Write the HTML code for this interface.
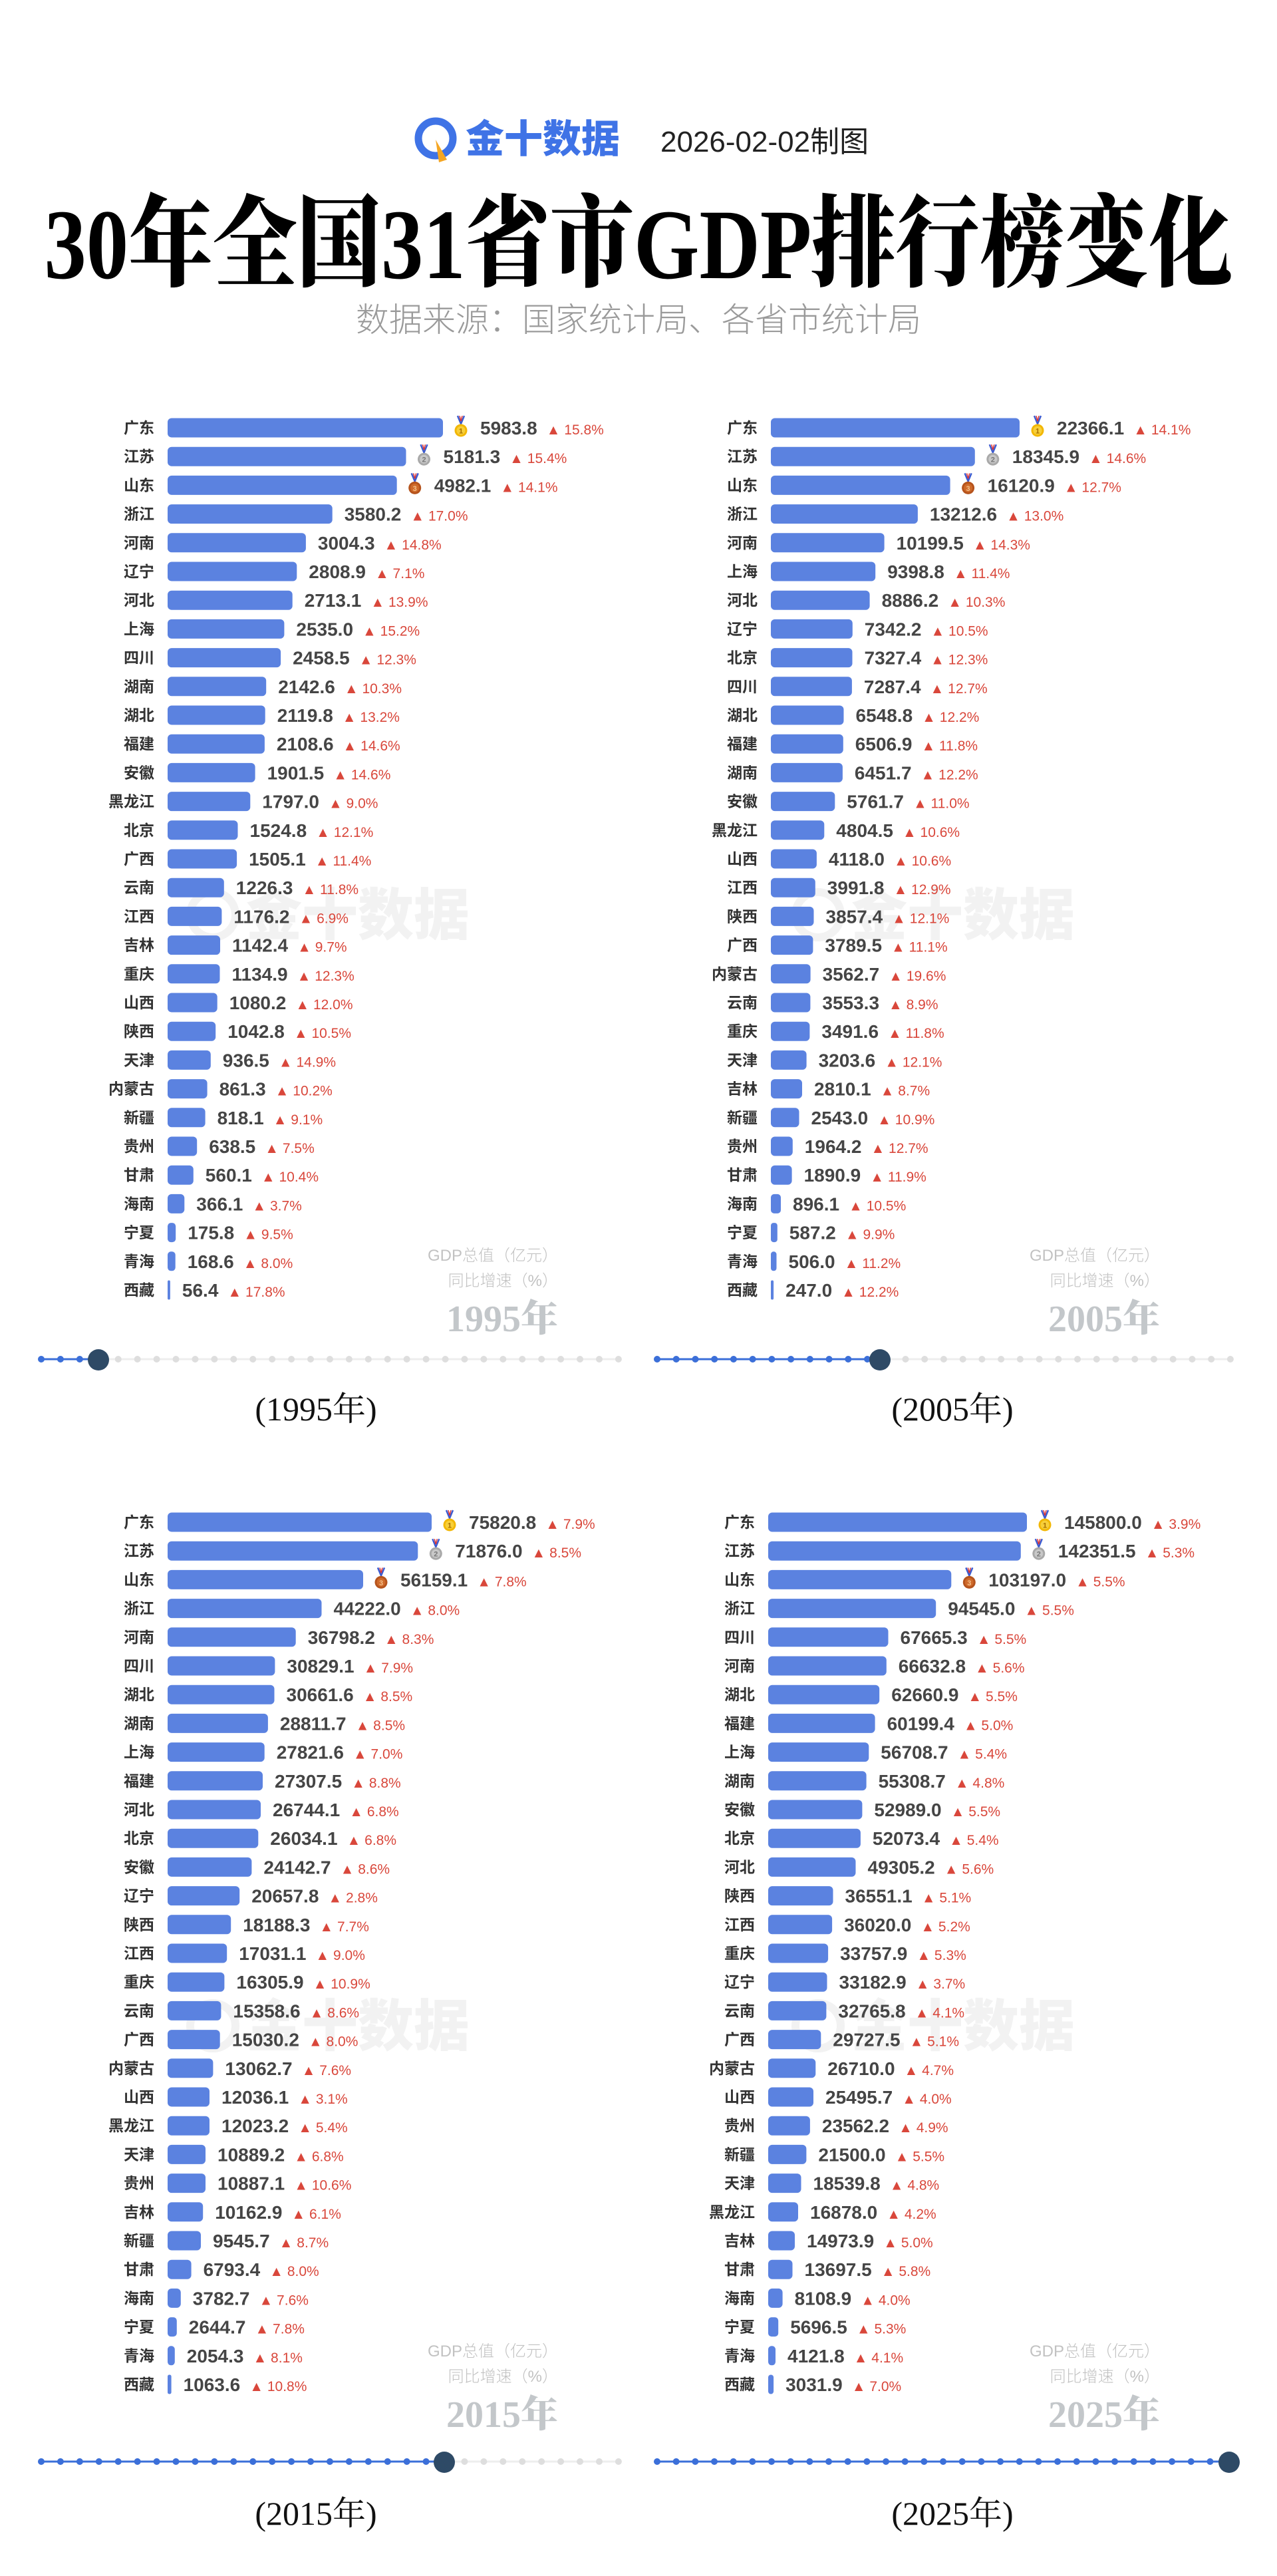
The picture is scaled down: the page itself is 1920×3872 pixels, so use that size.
<!DOCTYPE html>
<html><head><meta charset="utf-8">
<style>
html,body{margin:0;padding:0;background:#fff;overflow:hidden}
svg{display:block}
.lb{font:700 23px "Noto Sans CJK SC","WenQuanYi Zen Hei",sans-serif;fill:#333;text-anchor:end}
.v{font:700 28px "Liberation Sans",sans-serif;fill:#454545}
.p{font:400 21px "Liberation Sans","DejaVu Sans",sans-serif;fill:#d9473b}
.lg{font:300 24px "Liberation Sans","Noto Sans CJK SC",sans-serif;fill:#c2c2c2;text-anchor:end}
.yr{font:900 56px "Liberation Serif","Noto Serif CJK SC",serif;fill:#c3c7ca;text-anchor:end}
.cap{font:400 50px "Liberation Serif","Noto Serif CJK SC",serif;fill:#111;text-anchor:middle}
.wm{font:900 84px "Noto Sans CJK SC",sans-serif;fill:#f2f2f2}
rect.b{fill:#5b82e0}
</style></head>
<body>
<svg width="1920" height="3872" viewBox="0 0 1920 3872" xmlns="http://www.w3.org/2000/svg">
<defs>
<g id="m1"><path d="M-5,-22 L0,-10 L5,-22" fill="none" stroke="#3b5bd0" stroke-width="2.5"/><path d="M-2,-22 L0,-14 L2,-22" fill="none" stroke="#d33" stroke-width="1.5"/><circle r="9.5" fill="#f2b705"/><circle r="6.5" fill="#f7cf3a"/><text y="4.5" text-anchor="middle" font-family="Liberation Sans" font-size="11" font-weight="700" fill="#a66e00">1</text></g>
<g id="m2"><path d="M-5,-22 L0,-10 L5,-22" fill="none" stroke="#3b5bd0" stroke-width="2.5"/><path d="M-2,-22 L0,-14 L2,-22" fill="none" stroke="#d33" stroke-width="1.5"/><circle r="9.5" fill="#a9a9a9"/><circle r="6.5" fill="#c8c8c8"/><text y="4.5" text-anchor="middle" font-family="Liberation Sans" font-size="11" font-weight="700" fill="#777">2</text></g>
<g id="m3"><path d="M-5,-22 L0,-10 L5,-22" fill="none" stroke="#3b5bd0" stroke-width="2.5"/><path d="M-2,-22 L0,-14 L2,-22" fill="none" stroke="#d33" stroke-width="1.5"/><circle r="9.5" fill="#b5531c"/><circle r="6.5" fill="#cf6a2a"/><text y="4.5" text-anchor="middle" font-family="Liberation Sans" font-size="11" font-weight="700" fill="#f5c08a">3</text></g>
</defs>

<g>
  <circle cx="655" cy="208" r="26" fill="none" stroke="#3f73e6" stroke-width="11"/>
  <path d="M655,210 L672,240 L660,244 Z" fill="#f5a623"/>
  <text x="700" y="229" font-family="Noto Sans CJK SC,sans-serif" font-weight="900" font-size="58" fill="#3f73e6">金十数据</text>
  <text x="993" y="228" font-family="Liberation Sans,Noto Sans CJK SC,sans-serif" font-size="44" fill="#222">2026-02-02制图</text>
  <text x="960" y="418" text-anchor="middle" textLength="1787" lengthAdjust="spacingAndGlyphs" font-family="Liberation Serif,Noto Serif CJK SC,serif" font-weight="900" font-size="150" fill="#000">30年全国31省市GDP排行榜变化</text>
  <text x="960" y="498" text-anchor="middle" font-family="Noto Sans CJK SC,sans-serif" font-weight="300" font-size="50" fill="#9a9a9a">数据来源：国家统计局、各省市统计局</text>
</g>

<g>
  <circle cx="320" cy="1375" r="34" fill="none" stroke="#f2f2f2" stroke-width="12"/><text class="wm" x="370" y="1405">金十数据</text>
  <circle cx="1230" cy="1375" r="34" fill="none" stroke="#f2f2f2" stroke-width="12"/><text class="wm" x="1280" y="1405">金十数据</text>
  <circle cx="320" cy="3045" r="34" fill="none" stroke="#f2f2f2" stroke-width="12"/><text class="wm" x="370" y="3075">金十数据</text>
  <circle cx="1230" cy="3045" r="34" fill="none" stroke="#f2f2f2" stroke-width="12"/><text class="wm" x="1280" y="3075">金十数据</text>
</g>

<!-- Panel 1995 -->
<g transform="translate(252,643)">
<g transform="translate(0,0)"><text class="lb" x="-20" y="8">广东</text><rect class="b" x="0" y="-14.5" width="414" height="29" rx="6"/><use href="#m1" x="441" y="4"/><text class="v" x="470" y="10">5983.8<tspan class="p" dx="14">▲ 15.8%</tspan></text></g>
<g transform="translate(0,43.2)"><text class="lb" x="-20" y="8">江苏</text><rect class="b" x="0" y="-14.5" width="358.5" height="29" rx="6"/><use href="#m2" x="385.5" y="4"/><text class="v" x="414.5" y="10">5181.3<tspan class="p" dx="14">▲ 15.4%</tspan></text></g>
<g transform="translate(0,86.4)"><text class="lb" x="-20" y="8">山东</text><rect class="b" x="0" y="-14.5" width="344.7" height="29" rx="6"/><use href="#m3" x="371.7" y="4"/><text class="v" x="400.7" y="10">4982.1<tspan class="p" dx="14">▲ 14.1%</tspan></text></g>
<g transform="translate(0,129.6)"><text class="lb" x="-20" y="8">浙江</text><rect class="b" x="0" y="-14.5" width="247.7" height="29" rx="6"/><text class="v" x="265.7" y="10">3580.2<tspan class="p" dx="14">▲ 17.0%</tspan></text></g>
<g transform="translate(0,172.8)"><text class="lb" x="-20" y="8">河南</text><rect class="b" x="0" y="-14.5" width="207.9" height="29" rx="6"/><text class="v" x="225.9" y="10">3004.3<tspan class="p" dx="14">▲ 14.8%</tspan></text></g>
<g transform="translate(0,216)"><text class="lb" x="-20" y="8">辽宁</text><rect class="b" x="0" y="-14.5" width="194.3" height="29" rx="6"/><text class="v" x="212.3" y="10">2808.9<tspan class="p" dx="14">▲ 7.1%</tspan></text></g>
<g transform="translate(0,259.2)"><text class="lb" x="-20" y="8">河北</text><rect class="b" x="0" y="-14.5" width="187.7" height="29" rx="6"/><text class="v" x="205.7" y="10">2713.1<tspan class="p" dx="14">▲ 13.9%</tspan></text></g>
<g transform="translate(0,302.4)"><text class="lb" x="-20" y="8">上海</text><rect class="b" x="0" y="-14.5" width="175.4" height="29" rx="6"/><text class="v" x="193.4" y="10">2535.0<tspan class="p" dx="14">▲ 15.2%</tspan></text></g>
<g transform="translate(0,345.6)"><text class="lb" x="-20" y="8">四川</text><rect class="b" x="0" y="-14.5" width="170.1" height="29" rx="6"/><text class="v" x="188.1" y="10">2458.5<tspan class="p" dx="14">▲ 12.3%</tspan></text></g>
<g transform="translate(0,388.8)"><text class="lb" x="-20" y="8">湖南</text><rect class="b" x="0" y="-14.5" width="148.2" height="29" rx="6"/><text class="v" x="166.2" y="10">2142.6<tspan class="p" dx="14">▲ 10.3%</tspan></text></g>
<g transform="translate(0,432)"><text class="lb" x="-20" y="8">湖北</text><rect class="b" x="0" y="-14.5" width="146.7" height="29" rx="6"/><text class="v" x="164.7" y="10">2119.8<tspan class="p" dx="14">▲ 13.2%</tspan></text></g>
<g transform="translate(0,475.2)"><text class="lb" x="-20" y="8">福建</text><rect class="b" x="0" y="-14.5" width="145.9" height="29" rx="6"/><text class="v" x="163.9" y="10">2108.6<tspan class="p" dx="14">▲ 14.6%</tspan></text></g>
<g transform="translate(0,518.4)"><text class="lb" x="-20" y="8">安徽</text><rect class="b" x="0" y="-14.5" width="131.6" height="29" rx="6"/><text class="v" x="149.6" y="10">1901.5<tspan class="p" dx="14">▲ 14.6%</tspan></text></g>
<g transform="translate(0,561.6)"><text class="lb" x="-20" y="8">黑龙江</text><rect class="b" x="0" y="-14.5" width="124.3" height="29" rx="6"/><text class="v" x="142.3" y="10">1797.0<tspan class="p" dx="14">▲ 9.0%</tspan></text></g>
<g transform="translate(0,604.8)"><text class="lb" x="-20" y="8">北京</text><rect class="b" x="0" y="-14.5" width="105.5" height="29" rx="6"/><text class="v" x="123.5" y="10">1524.8<tspan class="p" dx="14">▲ 12.1%</tspan></text></g>
<g transform="translate(0,648)"><text class="lb" x="-20" y="8">广西</text><rect class="b" x="0" y="-14.5" width="104.1" height="29" rx="6"/><text class="v" x="122.1" y="10">1505.1<tspan class="p" dx="14">▲ 11.4%</tspan></text></g>
<g transform="translate(0,691.2)"><text class="lb" x="-20" y="8">云南</text><rect class="b" x="0" y="-14.5" width="84.8" height="29" rx="6"/><text class="v" x="102.8" y="10">1226.3<tspan class="p" dx="14">▲ 11.8%</tspan></text></g>
<g transform="translate(0,734.4)"><text class="lb" x="-20" y="8">江西</text><rect class="b" x="0" y="-14.5" width="81.4" height="29" rx="6"/><text class="v" x="99.4" y="10">1176.2<tspan class="p" dx="14">▲ 6.9%</tspan></text></g>
<g transform="translate(0,777.6)"><text class="lb" x="-20" y="8">吉林</text><rect class="b" x="0" y="-14.5" width="79" height="29" rx="6"/><text class="v" x="97" y="10">1142.4<tspan class="p" dx="14">▲ 9.7%</tspan></text></g>
<g transform="translate(0,820.8)"><text class="lb" x="-20" y="8">重庆</text><rect class="b" x="0" y="-14.5" width="78.5" height="29" rx="6"/><text class="v" x="96.5" y="10">1134.9<tspan class="p" dx="14">▲ 12.3%</tspan></text></g>
<g transform="translate(0,864)"><text class="lb" x="-20" y="8">山西</text><rect class="b" x="0" y="-14.5" width="74.7" height="29" rx="6"/><text class="v" x="92.7" y="10">1080.2<tspan class="p" dx="14">▲ 12.0%</tspan></text></g>
<g transform="translate(0,907.2)"><text class="lb" x="-20" y="8">陕西</text><rect class="b" x="0" y="-14.5" width="72.2" height="29" rx="6"/><text class="v" x="90.2" y="10">1042.8<tspan class="p" dx="14">▲ 10.5%</tspan></text></g>
<g transform="translate(0,950.4)"><text class="lb" x="-20" y="8">天津</text><rect class="b" x="0" y="-14.5" width="64.8" height="29" rx="6"/><text class="v" x="82.8" y="10">936.5<tspan class="p" dx="14">▲ 14.9%</tspan></text></g>
<g transform="translate(0,993.6)"><text class="lb" x="-20" y="8">内蒙古</text><rect class="b" x="0" y="-14.5" width="59.6" height="29" rx="6"/><text class="v" x="77.6" y="10">861.3<tspan class="p" dx="14">▲ 10.2%</tspan></text></g>
<g transform="translate(0,1036.8)"><text class="lb" x="-20" y="8">新疆</text><rect class="b" x="0" y="-14.5" width="56.6" height="29" rx="6"/><text class="v" x="74.6" y="10">818.1<tspan class="p" dx="14">▲ 9.1%</tspan></text></g>
<g transform="translate(0,1080)"><text class="lb" x="-20" y="8">贵州</text><rect class="b" x="0" y="-14.5" width="44.2" height="29" rx="6"/><text class="v" x="62.2" y="10">638.5<tspan class="p" dx="14">▲ 7.5%</tspan></text></g>
<g transform="translate(0,1123.2)"><text class="lb" x="-20" y="8">甘肃</text><rect class="b" x="0" y="-14.5" width="38.8" height="29" rx="6"/><text class="v" x="56.8" y="10">560.1<tspan class="p" dx="14">▲ 10.4%</tspan></text></g>
<g transform="translate(0,1166.4)"><text class="lb" x="-20" y="8">海南</text><rect class="b" x="0" y="-14.5" width="25.3" height="29" rx="6"/><text class="v" x="43.3" y="10">366.1<tspan class="p" dx="14">▲ 3.7%</tspan></text></g>
<g transform="translate(0,1209.6)"><text class="lb" x="-20" y="8">宁夏</text><rect class="b" x="0" y="-14.5" width="12.2" height="29" rx="5"/><text class="v" x="30.2" y="10">175.8<tspan class="p" dx="14">▲ 9.5%</tspan></text></g>
<g transform="translate(0,1252.8)"><text class="lb" x="-20" y="8">青海</text><rect class="b" x="0" y="-14.5" width="11.7" height="29" rx="5"/><text class="v" x="29.7" y="10">168.6<tspan class="p" dx="14">▲ 8.0%</tspan></text></g>
<g transform="translate(0,1296)"><text class="lb" x="-20" y="8">西藏</text><rect class="b" x="0" y="-14.5" width="3.9" height="29" rx="1.9"/><text class="v" x="21.9" y="10">56.4<tspan class="p" dx="14">▲ 17.8%</tspan></text></g>
<text class="lg" x="587" y="1252">GDP总值（亿元）</text>
<text class="lg" x="587" y="1290">同比增速（%）</text>
<text class="yr" x="587" y="1358">1995年</text>
</g>

<!-- Panel 2005 -->
<g transform="translate(1159,643)">
<g transform="translate(0,0)"><text class="lb" x="-20" y="8">广东</text><rect class="b" x="0" y="-14.5" width="374" height="29" rx="6"/><use href="#m1" x="401" y="4"/><text class="v" x="430" y="10">22366.1<tspan class="p" dx="14">▲ 14.1%</tspan></text></g>
<g transform="translate(0,43.2)"><text class="lb" x="-20" y="8">江苏</text><rect class="b" x="0" y="-14.5" width="306.8" height="29" rx="6"/><use href="#m2" x="333.8" y="4"/><text class="v" x="362.8" y="10">18345.9<tspan class="p" dx="14">▲ 14.6%</tspan></text></g>
<g transform="translate(0,86.4)"><text class="lb" x="-20" y="8">山东</text><rect class="b" x="0" y="-14.5" width="269.6" height="29" rx="6"/><use href="#m3" x="296.6" y="4"/><text class="v" x="325.6" y="10">16120.9<tspan class="p" dx="14">▲ 12.7%</tspan></text></g>
<g transform="translate(0,129.6)"><text class="lb" x="-20" y="8">浙江</text><rect class="b" x="0" y="-14.5" width="220.9" height="29" rx="6"/><text class="v" x="238.9" y="10">13212.6<tspan class="p" dx="14">▲ 13.0%</tspan></text></g>
<g transform="translate(0,172.8)"><text class="lb" x="-20" y="8">河南</text><rect class="b" x="0" y="-14.5" width="170.6" height="29" rx="6"/><text class="v" x="188.6" y="10">10199.5<tspan class="p" dx="14">▲ 14.3%</tspan></text></g>
<g transform="translate(0,216)"><text class="lb" x="-20" y="8">上海</text><rect class="b" x="0" y="-14.5" width="157.2" height="29" rx="6"/><text class="v" x="175.2" y="10">9398.8<tspan class="p" dx="14">▲ 11.4%</tspan></text></g>
<g transform="translate(0,259.2)"><text class="lb" x="-20" y="8">河北</text><rect class="b" x="0" y="-14.5" width="148.6" height="29" rx="6"/><text class="v" x="166.6" y="10">8886.2<tspan class="p" dx="14">▲ 10.3%</tspan></text></g>
<g transform="translate(0,302.4)"><text class="lb" x="-20" y="8">辽宁</text><rect class="b" x="0" y="-14.5" width="122.8" height="29" rx="6"/><text class="v" x="140.8" y="10">7342.2<tspan class="p" dx="14">▲ 10.5%</tspan></text></g>
<g transform="translate(0,345.6)"><text class="lb" x="-20" y="8">北京</text><rect class="b" x="0" y="-14.5" width="122.5" height="29" rx="6"/><text class="v" x="140.5" y="10">7327.4<tspan class="p" dx="14">▲ 12.3%</tspan></text></g>
<g transform="translate(0,388.8)"><text class="lb" x="-20" y="8">四川</text><rect class="b" x="0" y="-14.5" width="121.9" height="29" rx="6"/><text class="v" x="139.9" y="10">7287.4<tspan class="p" dx="14">▲ 12.7%</tspan></text></g>
<g transform="translate(0,432)"><text class="lb" x="-20" y="8">湖北</text><rect class="b" x="0" y="-14.5" width="109.5" height="29" rx="6"/><text class="v" x="127.5" y="10">6548.8<tspan class="p" dx="14">▲ 12.2%</tspan></text></g>
<g transform="translate(0,475.2)"><text class="lb" x="-20" y="8">福建</text><rect class="b" x="0" y="-14.5" width="108.8" height="29" rx="6"/><text class="v" x="126.8" y="10">6506.9<tspan class="p" dx="14">▲ 11.8%</tspan></text></g>
<g transform="translate(0,518.4)"><text class="lb" x="-20" y="8">湖南</text><rect class="b" x="0" y="-14.5" width="107.9" height="29" rx="6"/><text class="v" x="125.9" y="10">6451.7<tspan class="p" dx="14">▲ 12.2%</tspan></text></g>
<g transform="translate(0,561.6)"><text class="lb" x="-20" y="8">安徽</text><rect class="b" x="0" y="-14.5" width="96.3" height="29" rx="6"/><text class="v" x="114.3" y="10">5761.7<tspan class="p" dx="14">▲ 11.0%</tspan></text></g>
<g transform="translate(0,604.8)"><text class="lb" x="-20" y="8">黑龙江</text><rect class="b" x="0" y="-14.5" width="80.3" height="29" rx="6"/><text class="v" x="98.3" y="10">4804.5<tspan class="p" dx="14">▲ 10.6%</tspan></text></g>
<g transform="translate(0,648)"><text class="lb" x="-20" y="8">山西</text><rect class="b" x="0" y="-14.5" width="68.9" height="29" rx="6"/><text class="v" x="86.9" y="10">4118.0<tspan class="p" dx="14">▲ 10.6%</tspan></text></g>
<g transform="translate(0,691.2)"><text class="lb" x="-20" y="8">江西</text><rect class="b" x="0" y="-14.5" width="66.8" height="29" rx="6"/><text class="v" x="84.8" y="10">3991.8<tspan class="p" dx="14">▲ 12.9%</tspan></text></g>
<g transform="translate(0,734.4)"><text class="lb" x="-20" y="8">陕西</text><rect class="b" x="0" y="-14.5" width="64.5" height="29" rx="6"/><text class="v" x="82.5" y="10">3857.4<tspan class="p" dx="14">▲ 12.1%</tspan></text></g>
<g transform="translate(0,777.6)"><text class="lb" x="-20" y="8">广西</text><rect class="b" x="0" y="-14.5" width="63.4" height="29" rx="6"/><text class="v" x="81.4" y="10">3789.5<tspan class="p" dx="14">▲ 11.1%</tspan></text></g>
<g transform="translate(0,820.8)"><text class="lb" x="-20" y="8">内蒙古</text><rect class="b" x="0" y="-14.5" width="59.6" height="29" rx="6"/><text class="v" x="77.6" y="10">3562.7<tspan class="p" dx="14">▲ 19.6%</tspan></text></g>
<g transform="translate(0,864)"><text class="lb" x="-20" y="8">云南</text><rect class="b" x="0" y="-14.5" width="59.4" height="29" rx="6"/><text class="v" x="77.4" y="10">3553.3<tspan class="p" dx="14">▲ 8.9%</tspan></text></g>
<g transform="translate(0,907.2)"><text class="lb" x="-20" y="8">重庆</text><rect class="b" x="0" y="-14.5" width="58.4" height="29" rx="6"/><text class="v" x="76.4" y="10">3491.6<tspan class="p" dx="14">▲ 11.8%</tspan></text></g>
<g transform="translate(0,950.4)"><text class="lb" x="-20" y="8">天津</text><rect class="b" x="0" y="-14.5" width="53.6" height="29" rx="6"/><text class="v" x="71.6" y="10">3203.6<tspan class="p" dx="14">▲ 12.1%</tspan></text></g>
<g transform="translate(0,993.6)"><text class="lb" x="-20" y="8">吉林</text><rect class="b" x="0" y="-14.5" width="47" height="29" rx="6"/><text class="v" x="65" y="10">2810.1<tspan class="p" dx="14">▲ 8.7%</tspan></text></g>
<g transform="translate(0,1036.8)"><text class="lb" x="-20" y="8">新疆</text><rect class="b" x="0" y="-14.5" width="42.5" height="29" rx="6"/><text class="v" x="60.5" y="10">2543.0<tspan class="p" dx="14">▲ 10.9%</tspan></text></g>
<g transform="translate(0,1080)"><text class="lb" x="-20" y="8">贵州</text><rect class="b" x="0" y="-14.5" width="32.8" height="29" rx="6"/><text class="v" x="50.8" y="10">1964.2<tspan class="p" dx="14">▲ 12.7%</tspan></text></g>
<g transform="translate(0,1123.2)"><text class="lb" x="-20" y="8">甘肃</text><rect class="b" x="0" y="-14.5" width="31.6" height="29" rx="6"/><text class="v" x="49.6" y="10">1890.9<tspan class="p" dx="14">▲ 11.9%</tspan></text></g>
<g transform="translate(0,1166.4)"><text class="lb" x="-20" y="8">海南</text><rect class="b" x="0" y="-14.5" width="15" height="29" rx="5"/><text class="v" x="33" y="10">896.1<tspan class="p" dx="14">▲ 10.5%</tspan></text></g>
<g transform="translate(0,1209.6)"><text class="lb" x="-20" y="8">宁夏</text><rect class="b" x="0" y="-14.5" width="9.8" height="29" rx="4"/><text class="v" x="27.8" y="10">587.2<tspan class="p" dx="14">▲ 9.9%</tspan></text></g>
<g transform="translate(0,1252.8)"><text class="lb" x="-20" y="8">青海</text><rect class="b" x="0" y="-14.5" width="8.5" height="29" rx="4"/><text class="v" x="26.5" y="10">506.0<tspan class="p" dx="14">▲ 11.2%</tspan></text></g>
<g transform="translate(0,1296)"><text class="lb" x="-20" y="8">西藏</text><rect class="b" x="0" y="-14.5" width="4.1" height="29" rx="2"/><text class="v" x="22.1" y="10">247.0<tspan class="p" dx="14">▲ 12.2%</tspan></text></g>
<text class="lg" x="585" y="1252">GDP总值（亿元）</text>
<text class="lg" x="585" y="1290">同比增速（%）</text>
<text class="yr" x="585" y="1358">2005年</text>
</g>

<!-- Panel 2015 -->
<g transform="translate(252,2288)">
<g transform="translate(0,0)"><text class="lb" x="-20" y="8">广东</text><rect class="b" x="0" y="-14.5" width="397" height="29" rx="6"/><use href="#m1" x="424" y="4"/><text class="v" x="453" y="10">75820.8<tspan class="p" dx="14">▲ 7.9%</tspan></text></g>
<g transform="translate(0,43.2)"><text class="lb" x="-20" y="8">江苏</text><rect class="b" x="0" y="-14.5" width="376.3" height="29" rx="6"/><use href="#m2" x="403.3" y="4"/><text class="v" x="432.3" y="10">71876.0<tspan class="p" dx="14">▲ 8.5%</tspan></text></g>
<g transform="translate(0,86.4)"><text class="lb" x="-20" y="8">山东</text><rect class="b" x="0" y="-14.5" width="294" height="29" rx="6"/><use href="#m3" x="321" y="4"/><text class="v" x="350" y="10">56159.1<tspan class="p" dx="14">▲ 7.8%</tspan></text></g>
<g transform="translate(0,129.6)"><text class="lb" x="-20" y="8">浙江</text><rect class="b" x="0" y="-14.5" width="231.5" height="29" rx="6"/><text class="v" x="249.5" y="10">44222.0<tspan class="p" dx="14">▲ 8.0%</tspan></text></g>
<g transform="translate(0,172.8)"><text class="lb" x="-20" y="8">河南</text><rect class="b" x="0" y="-14.5" width="192.7" height="29" rx="6"/><text class="v" x="210.7" y="10">36798.2<tspan class="p" dx="14">▲ 8.3%</tspan></text></g>
<g transform="translate(0,216)"><text class="lb" x="-20" y="8">四川</text><rect class="b" x="0" y="-14.5" width="161.4" height="29" rx="6"/><text class="v" x="179.4" y="10">30829.1<tspan class="p" dx="14">▲ 7.9%</tspan></text></g>
<g transform="translate(0,259.2)"><text class="lb" x="-20" y="8">湖北</text><rect class="b" x="0" y="-14.5" width="160.5" height="29" rx="6"/><text class="v" x="178.5" y="10">30661.6<tspan class="p" dx="14">▲ 8.5%</tspan></text></g>
<g transform="translate(0,302.4)"><text class="lb" x="-20" y="8">湖南</text><rect class="b" x="0" y="-14.5" width="150.9" height="29" rx="6"/><text class="v" x="168.9" y="10">28811.7<tspan class="p" dx="14">▲ 8.5%</tspan></text></g>
<g transform="translate(0,345.6)"><text class="lb" x="-20" y="8">上海</text><rect class="b" x="0" y="-14.5" width="145.7" height="29" rx="6"/><text class="v" x="163.7" y="10">27821.6<tspan class="p" dx="14">▲ 7.0%</tspan></text></g>
<g transform="translate(0,388.8)"><text class="lb" x="-20" y="8">福建</text><rect class="b" x="0" y="-14.5" width="143" height="29" rx="6"/><text class="v" x="161" y="10">27307.5<tspan class="p" dx="14">▲ 8.8%</tspan></text></g>
<g transform="translate(0,432)"><text class="lb" x="-20" y="8">河北</text><rect class="b" x="0" y="-14.5" width="140" height="29" rx="6"/><text class="v" x="158" y="10">26744.1<tspan class="p" dx="14">▲ 6.8%</tspan></text></g>
<g transform="translate(0,475.2)"><text class="lb" x="-20" y="8">北京</text><rect class="b" x="0" y="-14.5" width="136.3" height="29" rx="6"/><text class="v" x="154.3" y="10">26034.1<tspan class="p" dx="14">▲ 6.8%</tspan></text></g>
<g transform="translate(0,518.4)"><text class="lb" x="-20" y="8">安徽</text><rect class="b" x="0" y="-14.5" width="126.4" height="29" rx="6"/><text class="v" x="144.4" y="10">24142.7<tspan class="p" dx="14">▲ 8.6%</tspan></text></g>
<g transform="translate(0,561.6)"><text class="lb" x="-20" y="8">辽宁</text><rect class="b" x="0" y="-14.5" width="108.2" height="29" rx="6"/><text class="v" x="126.2" y="10">20657.8<tspan class="p" dx="14">▲ 2.8%</tspan></text></g>
<g transform="translate(0,604.8)"><text class="lb" x="-20" y="8">陕西</text><rect class="b" x="0" y="-14.5" width="95.2" height="29" rx="6"/><text class="v" x="113.2" y="10">18188.3<tspan class="p" dx="14">▲ 7.7%</tspan></text></g>
<g transform="translate(0,648)"><text class="lb" x="-20" y="8">江西</text><rect class="b" x="0" y="-14.5" width="89.2" height="29" rx="6"/><text class="v" x="107.2" y="10">17031.1<tspan class="p" dx="14">▲ 9.0%</tspan></text></g>
<g transform="translate(0,691.2)"><text class="lb" x="-20" y="8">重庆</text><rect class="b" x="0" y="-14.5" width="85.4" height="29" rx="6"/><text class="v" x="103.4" y="10">16305.9<tspan class="p" dx="14">▲ 10.9%</tspan></text></g>
<g transform="translate(0,734.4)"><text class="lb" x="-20" y="8">云南</text><rect class="b" x="0" y="-14.5" width="80.4" height="29" rx="6"/><text class="v" x="98.4" y="10">15358.6<tspan class="p" dx="14">▲ 8.6%</tspan></text></g>
<g transform="translate(0,777.6)"><text class="lb" x="-20" y="8">广西</text><rect class="b" x="0" y="-14.5" width="78.7" height="29" rx="6"/><text class="v" x="96.7" y="10">15030.2<tspan class="p" dx="14">▲ 8.0%</tspan></text></g>
<g transform="translate(0,820.8)"><text class="lb" x="-20" y="8">内蒙古</text><rect class="b" x="0" y="-14.5" width="68.4" height="29" rx="6"/><text class="v" x="86.4" y="10">13062.7<tspan class="p" dx="14">▲ 7.6%</tspan></text></g>
<g transform="translate(0,864)"><text class="lb" x="-20" y="8">山西</text><rect class="b" x="0" y="-14.5" width="63" height="29" rx="6"/><text class="v" x="81" y="10">12036.1<tspan class="p" dx="14">▲ 3.1%</tspan></text></g>
<g transform="translate(0,907.2)"><text class="lb" x="-20" y="8">黑龙江</text><rect class="b" x="0" y="-14.5" width="63" height="29" rx="6"/><text class="v" x="81" y="10">12023.2<tspan class="p" dx="14">▲ 5.4%</tspan></text></g>
<g transform="translate(0,950.4)"><text class="lb" x="-20" y="8">天津</text><rect class="b" x="0" y="-14.5" width="57" height="29" rx="6"/><text class="v" x="75" y="10">10889.2<tspan class="p" dx="14">▲ 6.8%</tspan></text></g>
<g transform="translate(0,993.6)"><text class="lb" x="-20" y="8">贵州</text><rect class="b" x="0" y="-14.5" width="57" height="29" rx="6"/><text class="v" x="75" y="10">10887.1<tspan class="p" dx="14">▲ 10.6%</tspan></text></g>
<g transform="translate(0,1036.8)"><text class="lb" x="-20" y="8">吉林</text><rect class="b" x="0" y="-14.5" width="53.2" height="29" rx="6"/><text class="v" x="71.2" y="10">10162.9<tspan class="p" dx="14">▲ 6.1%</tspan></text></g>
<g transform="translate(0,1080)"><text class="lb" x="-20" y="8">新疆</text><rect class="b" x="0" y="-14.5" width="50" height="29" rx="6"/><text class="v" x="68" y="10">9545.7<tspan class="p" dx="14">▲ 8.7%</tspan></text></g>
<g transform="translate(0,1123.2)"><text class="lb" x="-20" y="8">甘肃</text><rect class="b" x="0" y="-14.5" width="35.6" height="29" rx="6"/><text class="v" x="53.6" y="10">6793.4<tspan class="p" dx="14">▲ 8.0%</tspan></text></g>
<g transform="translate(0,1166.4)"><text class="lb" x="-20" y="8">海南</text><rect class="b" x="0" y="-14.5" width="19.8" height="29" rx="6"/><text class="v" x="37.8" y="10">3782.7<tspan class="p" dx="14">▲ 7.6%</tspan></text></g>
<g transform="translate(0,1209.6)"><text class="lb" x="-20" y="8">宁夏</text><rect class="b" x="0" y="-14.5" width="13.8" height="29" rx="5"/><text class="v" x="31.8" y="10">2644.7<tspan class="p" dx="14">▲ 7.8%</tspan></text></g>
<g transform="translate(0,1252.8)"><text class="lb" x="-20" y="8">青海</text><rect class="b" x="0" y="-14.5" width="10.8" height="29" rx="5"/><text class="v" x="28.8" y="10">2054.3<tspan class="p" dx="14">▲ 8.1%</tspan></text></g>
<g transform="translate(0,1296)"><text class="lb" x="-20" y="8">西藏</text><rect class="b" x="0" y="-14.5" width="5.6" height="29" rx="2.5"/><text class="v" x="23.6" y="10">1063.6<tspan class="p" dx="14">▲ 10.8%</tspan></text></g>
<text class="lg" x="587" y="1254">GDP总值（亿元）</text>
<text class="lg" x="587" y="1292">同比增速（%）</text>
<text class="yr" x="587" y="1360">2015年</text>
</g>

<!-- Panel 2025 -->
<g transform="translate(1155,2288)">
<g transform="translate(0,0)"><text class="lb" x="-20" y="8">广东</text><rect class="b" x="0" y="-14.5" width="389" height="29" rx="6"/><use href="#m1" x="416" y="4"/><text class="v" x="445" y="10">145800.0<tspan class="p" dx="14">▲ 3.9%</tspan></text></g>
<g transform="translate(0,43.2)"><text class="lb" x="-20" y="8">江苏</text><rect class="b" x="0" y="-14.5" width="379.8" height="29" rx="6"/><use href="#m2" x="406.8" y="4"/><text class="v" x="435.8" y="10">142351.5<tspan class="p" dx="14">▲ 5.3%</tspan></text></g>
<g transform="translate(0,86.4)"><text class="lb" x="-20" y="8">山东</text><rect class="b" x="0" y="-14.5" width="275.3" height="29" rx="6"/><use href="#m3" x="302.3" y="4"/><text class="v" x="331.3" y="10">103197.0<tspan class="p" dx="14">▲ 5.5%</tspan></text></g>
<g transform="translate(0,129.6)"><text class="lb" x="-20" y="8">浙江</text><rect class="b" x="0" y="-14.5" width="252.2" height="29" rx="6"/><text class="v" x="270.2" y="10">94545.0<tspan class="p" dx="14">▲ 5.5%</tspan></text></g>
<g transform="translate(0,172.8)"><text class="lb" x="-20" y="8">四川</text><rect class="b" x="0" y="-14.5" width="180.5" height="29" rx="6"/><text class="v" x="198.5" y="10">67665.3<tspan class="p" dx="14">▲ 5.5%</tspan></text></g>
<g transform="translate(0,216)"><text class="lb" x="-20" y="8">河南</text><rect class="b" x="0" y="-14.5" width="177.8" height="29" rx="6"/><text class="v" x="195.8" y="10">66632.8<tspan class="p" dx="14">▲ 5.6%</tspan></text></g>
<g transform="translate(0,259.2)"><text class="lb" x="-20" y="8">湖北</text><rect class="b" x="0" y="-14.5" width="167.2" height="29" rx="6"/><text class="v" x="185.2" y="10">62660.9<tspan class="p" dx="14">▲ 5.5%</tspan></text></g>
<g transform="translate(0,302.4)"><text class="lb" x="-20" y="8">福建</text><rect class="b" x="0" y="-14.5" width="160.6" height="29" rx="6"/><text class="v" x="178.6" y="10">60199.4<tspan class="p" dx="14">▲ 5.0%</tspan></text></g>
<g transform="translate(0,345.6)"><text class="lb" x="-20" y="8">上海</text><rect class="b" x="0" y="-14.5" width="151.3" height="29" rx="6"/><text class="v" x="169.3" y="10">56708.7<tspan class="p" dx="14">▲ 5.4%</tspan></text></g>
<g transform="translate(0,388.8)"><text class="lb" x="-20" y="8">湖南</text><rect class="b" x="0" y="-14.5" width="147.6" height="29" rx="6"/><text class="v" x="165.6" y="10">55308.7<tspan class="p" dx="14">▲ 4.8%</tspan></text></g>
<g transform="translate(0,432)"><text class="lb" x="-20" y="8">安徽</text><rect class="b" x="0" y="-14.5" width="141.4" height="29" rx="6"/><text class="v" x="159.4" y="10">52989.0<tspan class="p" dx="14">▲ 5.5%</tspan></text></g>
<g transform="translate(0,475.2)"><text class="lb" x="-20" y="8">北京</text><rect class="b" x="0" y="-14.5" width="138.9" height="29" rx="6"/><text class="v" x="156.9" y="10">52073.4<tspan class="p" dx="14">▲ 5.4%</tspan></text></g>
<g transform="translate(0,518.4)"><text class="lb" x="-20" y="8">河北</text><rect class="b" x="0" y="-14.5" width="131.5" height="29" rx="6"/><text class="v" x="149.5" y="10">49305.2<tspan class="p" dx="14">▲ 5.6%</tspan></text></g>
<g transform="translate(0,561.6)"><text class="lb" x="-20" y="8">陕西</text><rect class="b" x="0" y="-14.5" width="97.5" height="29" rx="6"/><text class="v" x="115.5" y="10">36551.1<tspan class="p" dx="14">▲ 5.1%</tspan></text></g>
<g transform="translate(0,604.8)"><text class="lb" x="-20" y="8">江西</text><rect class="b" x="0" y="-14.5" width="96.1" height="29" rx="6"/><text class="v" x="114.1" y="10">36020.0<tspan class="p" dx="14">▲ 5.2%</tspan></text></g>
<g transform="translate(0,648)"><text class="lb" x="-20" y="8">重庆</text><rect class="b" x="0" y="-14.5" width="90.1" height="29" rx="6"/><text class="v" x="108.1" y="10">33757.9<tspan class="p" dx="14">▲ 5.3%</tspan></text></g>
<g transform="translate(0,691.2)"><text class="lb" x="-20" y="8">辽宁</text><rect class="b" x="0" y="-14.5" width="88.5" height="29" rx="6"/><text class="v" x="106.5" y="10">33182.9<tspan class="p" dx="14">▲ 3.7%</tspan></text></g>
<g transform="translate(0,734.4)"><text class="lb" x="-20" y="8">云南</text><rect class="b" x="0" y="-14.5" width="87.4" height="29" rx="6"/><text class="v" x="105.4" y="10">32765.8<tspan class="p" dx="14">▲ 4.1%</tspan></text></g>
<g transform="translate(0,777.6)"><text class="lb" x="-20" y="8">广西</text><rect class="b" x="0" y="-14.5" width="79.3" height="29" rx="6"/><text class="v" x="97.3" y="10">29727.5<tspan class="p" dx="14">▲ 5.1%</tspan></text></g>
<g transform="translate(0,820.8)"><text class="lb" x="-20" y="8">内蒙古</text><rect class="b" x="0" y="-14.5" width="71.3" height="29" rx="6"/><text class="v" x="89.3" y="10">26710.0<tspan class="p" dx="14">▲ 4.7%</tspan></text></g>
<g transform="translate(0,864)"><text class="lb" x="-20" y="8">山西</text><rect class="b" x="0" y="-14.5" width="68" height="29" rx="6"/><text class="v" x="86" y="10">25495.7<tspan class="p" dx="14">▲ 4.0%</tspan></text></g>
<g transform="translate(0,907.2)"><text class="lb" x="-20" y="8">贵州</text><rect class="b" x="0" y="-14.5" width="62.9" height="29" rx="6"/><text class="v" x="80.9" y="10">23562.2<tspan class="p" dx="14">▲ 4.9%</tspan></text></g>
<g transform="translate(0,950.4)"><text class="lb" x="-20" y="8">新疆</text><rect class="b" x="0" y="-14.5" width="57.4" height="29" rx="6"/><text class="v" x="75.4" y="10">21500.0<tspan class="p" dx="14">▲ 5.5%</tspan></text></g>
<g transform="translate(0,993.6)"><text class="lb" x="-20" y="8">天津</text><rect class="b" x="0" y="-14.5" width="49.5" height="29" rx="6"/><text class="v" x="67.5" y="10">18539.8<tspan class="p" dx="14">▲ 4.8%</tspan></text></g>
<g transform="translate(0,1036.8)"><text class="lb" x="-20" y="8">黑龙江</text><rect class="b" x="0" y="-14.5" width="45" height="29" rx="6"/><text class="v" x="63" y="10">16878.0<tspan class="p" dx="14">▲ 4.2%</tspan></text></g>
<g transform="translate(0,1080)"><text class="lb" x="-20" y="8">吉林</text><rect class="b" x="0" y="-14.5" width="40" height="29" rx="6"/><text class="v" x="58" y="10">14973.9<tspan class="p" dx="14">▲ 5.0%</tspan></text></g>
<g transform="translate(0,1123.2)"><text class="lb" x="-20" y="8">甘肃</text><rect class="b" x="0" y="-14.5" width="36.5" height="29" rx="6"/><text class="v" x="54.5" y="10">13697.5<tspan class="p" dx="14">▲ 5.8%</tspan></text></g>
<g transform="translate(0,1166.4)"><text class="lb" x="-20" y="8">海南</text><rect class="b" x="0" y="-14.5" width="21.6" height="29" rx="6"/><text class="v" x="39.6" y="10">8108.9<tspan class="p" dx="14">▲ 4.0%</tspan></text></g>
<g transform="translate(0,1209.6)"><text class="lb" x="-20" y="8">宁夏</text><rect class="b" x="0" y="-14.5" width="15.2" height="29" rx="5"/><text class="v" x="33.2" y="10">5696.5<tspan class="p" dx="14">▲ 5.3%</tspan></text></g>
<g transform="translate(0,1252.8)"><text class="lb" x="-20" y="8">青海</text><rect class="b" x="0" y="-14.5" width="11" height="29" rx="5"/><text class="v" x="29" y="10">4121.8<tspan class="p" dx="14">▲ 4.1%</tspan></text></g>
<g transform="translate(0,1296)"><text class="lb" x="-20" y="8">西藏</text><rect class="b" x="0" y="-14.5" width="8.1" height="29" rx="4"/><text class="v" x="26.1" y="10">3031.9<tspan class="p" dx="14">▲ 7.0%</tspan></text></g>
<text class="lg" x="589" y="1254">GDP总值（亿元）</text>
<text class="lg" x="589" y="1292">同比增速（%）</text>
<text class="yr" x="589" y="1360">2025年</text>
</g>

<!-- Timelines -->
<g>
  <line x1="62" y1="2043" x2="930" y2="2043" stroke="#eeeeee" stroke-width="3"/>
  <line x1="62" y1="2043" x2="931" y2="2043" stroke="#dedede" stroke-width="10" stroke-linecap="round" stroke-dasharray="0 28.93"/>
  <line x1="62" y1="2043" x2="148" y2="2043" stroke="#3b6fd9" stroke-width="3"/>
  <line x1="62" y1="2043" x2="130" y2="2043" stroke="#3b6fd9" stroke-width="10" stroke-linecap="round" stroke-dasharray="0 28.93"/>
  <circle cx="148" cy="2044" r="16" fill="#2e4a66"/>

  <line x1="988" y1="2043" x2="1850" y2="2043" stroke="#eeeeee" stroke-width="3"/>
  <line x1="988" y1="2043" x2="1851" y2="2043" stroke="#dedede" stroke-width="10" stroke-linecap="round" stroke-dasharray="0 28.73"/>
  <line x1="988" y1="2043" x2="1323" y2="2043" stroke="#3b6fd9" stroke-width="3"/>
  <line x1="988" y1="2043" x2="1310" y2="2043" stroke="#3b6fd9" stroke-width="10" stroke-linecap="round" stroke-dasharray="0 28.73"/>
  <circle cx="1323" cy="2044" r="16" fill="#2e4a66"/>

  <line x1="62" y1="3700" x2="930" y2="3700" stroke="#eeeeee" stroke-width="3"/>
  <line x1="62" y1="3700" x2="931" y2="3700" stroke="#dedede" stroke-width="10" stroke-linecap="round" stroke-dasharray="0 28.93"/>
  <line x1="62" y1="3700" x2="668" y2="3700" stroke="#3b6fd9" stroke-width="3"/>
  <line x1="62" y1="3700" x2="650" y2="3700" stroke="#3b6fd9" stroke-width="10" stroke-linecap="round" stroke-dasharray="0 28.93"/>
  <circle cx="668" cy="3701" r="16" fill="#2e4a66"/>

  <line x1="988" y1="3700" x2="1848" y2="3700" stroke="#3b6fd9" stroke-width="3"/>
  <line x1="988" y1="3700" x2="1830" y2="3700" stroke="#3b6fd9" stroke-width="10" stroke-linecap="round" stroke-dasharray="0 28.67"/>
  <circle cx="1848" cy="3701" r="16" fill="#2e4a66"/>
</g>

<text class="cap" x="475" y="2135">(1995年)</text>
<text class="cap" x="1432" y="2135">(2005年)</text>
<text class="cap" x="475" y="3795">(2015年)</text>
<text class="cap" x="1432" y="3795">(2025年)</text>
</svg>
</body></html>
